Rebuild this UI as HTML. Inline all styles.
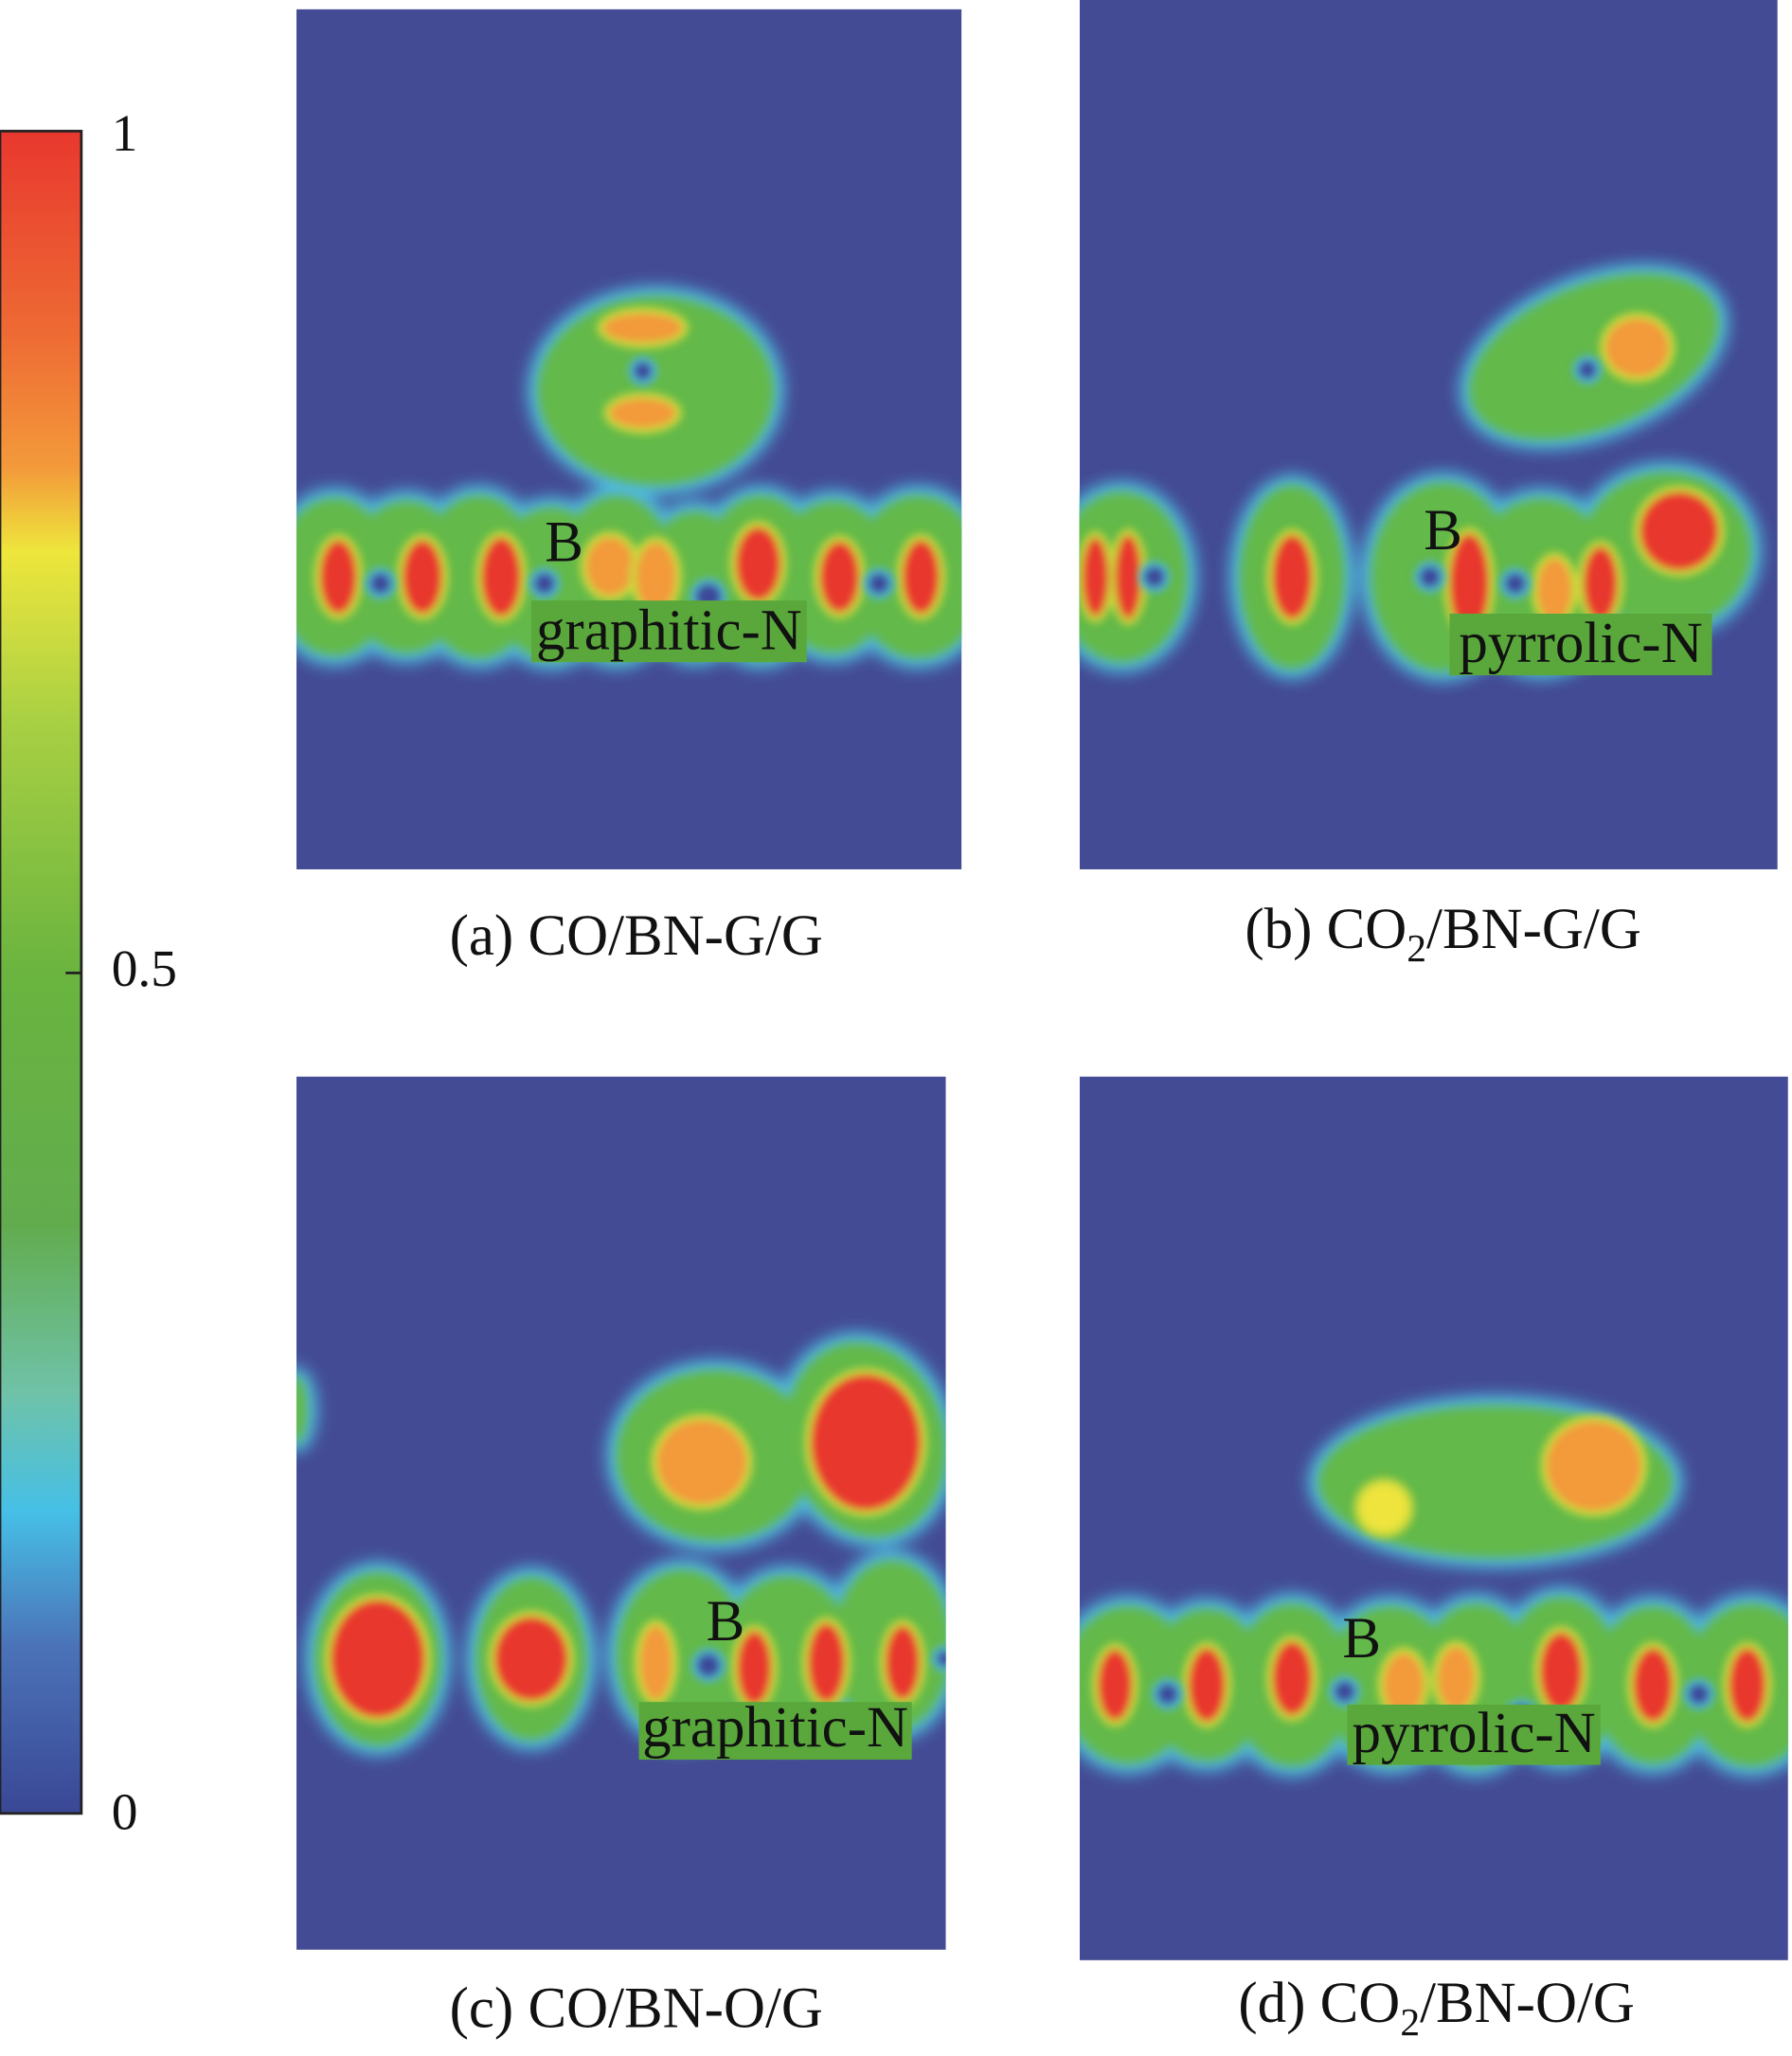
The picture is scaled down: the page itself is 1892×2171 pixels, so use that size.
<!DOCTYPE html>
<html><head><meta charset="utf-8"><style>
html,body{margin:0;padding:0;background:#fff;}
svg{display:block;}
text{font-family:"Liberation Serif",serif;fill:#111;}
</style></head><body>
<svg id="chart" width="1892" height="2171" viewBox="0 0 1366 1568" preserveAspectRatio="none">
<defs>
<linearGradient id="cbar" x1="0" y1="0" x2="0" y2="1">
<stop offset="0" stop-color="#e8382e"/>
<stop offset="0.12" stop-color="#ee6a34"/>
<stop offset="0.2" stop-color="#f39a3a"/>
<stop offset="0.25" stop-color="#eee63c"/>
<stop offset="0.35" stop-color="#a9d043"/>
<stop offset="0.5" stop-color="#6ab43f"/>
<stop offset="0.65" stop-color="#62ac4e"/>
<stop offset="0.75" stop-color="#6fc2a8"/>
<stop offset="0.82" stop-color="#46c0e6"/>
<stop offset="0.9" stop-color="#4b73b8"/>
<stop offset="1" stop-color="#3a4795"/>
</linearGradient>
<filter id="b1" x="-50%" y="-50%" width="200%" height="200%"><feGaussianBlur stdDeviation="4"/></filter>
<filter id="b2" x="-50%" y="-50%" width="200%" height="200%"><feGaussianBlur stdDeviation="6"/></filter>
<filter id="b3" x="-50%" y="-50%" width="200%" height="200%"><feGaussianBlur stdDeviation="3"/></filter>
<clipPath id="ca"><rect x="226" y="7" width="507" height="656"/></clipPath>
<clipPath id="cb"><rect x="823" y="0" width="532" height="663"/></clipPath>
<clipPath id="cc"><rect x="226" y="821" width="495" height="666"/></clipPath>
<clipPath id="cd"><rect x="823" y="821" width="540" height="674"/></clipPath>
</defs>
<g>
<rect x="0" y="100" width="62" height="1283" fill="url(#cbar)" stroke="#222" stroke-width="2"/>
<line x1="50" y1="742" x2="62" y2="742" stroke="#222" stroke-width="2"/>
<text x="85" y="115" font-size="40">1</text>
<text x="85" y="752" font-size="40">0.5</text>
<text x="85" y="1395" font-size="40">0</text>
</g>
<g id="panels"></g>
<text x="485" y="728" font-size="44" text-anchor="middle">(a) CO/BN-G/G</text>
<text x="1100" y="723" font-size="44" text-anchor="middle">(b) CO<tspan font-size="30" dy="10">2</tspan><tspan dy="-10">/BN-G/G</tspan></text>
<text x="485" y="1546" font-size="44" text-anchor="middle">(c) CO/BN-O/G</text>
<text x="1095" y="1542" font-size="44" text-anchor="middle">(d) CO<tspan font-size="30" dy="10">2</tspan><tspan dy="-10">/BN-O/G</tspan></text>
</svg>
<script>
const NS="http://www.w3.org/2000/svg";
const panelNames=["panel-a","panel-b","panel-c","panel-d"];
const panelRects=[[226,7,507,656],[823,0,532,663],[226,821,495,666],[823,821,540,674]];
const panelClips=["ca","cb","cc","cd"];
// blobs (envelope): [cx, cy, rx, ry, rotation]
const envA=[[500,298,90,72,0],[255,440,45,60,0],[310,440,45,58,0],[365,440,45,62,0],[420,445,45,58,0],[470,440,45,62,0],[530,445,40,55,0],[580,440,45,62,0],[635,440,45,58,0],[700,440,50,62,0]];
const envB=[[855,440,50,65,0],[985,440,40,70,0],[1100,440,55,72,0],[1175,445,55,65,0],[1270,420,65,60,0],[1215,272,100,55,-22]];
const envC=[[288,1265,48,66,0],[405,1265,42,62,0],[520,1262,50,65,0],[600,1262,50,60,0],[680,1255,45,65,0],[545,1110,75,65,0],[660,1098,60,75,-15],[226,1075,8,25,0]];
const envD=[[1140,1130,135,58,0],[860,1285,50,60,0],[920,1285,45,58,0],[985,1285,45,62,0],[1060,1285,50,60,0],[1125,1285,45,62,0],[1190,1280,45,62,0],[1260,1285,45,60,0],[1335,1285,50,62,0]];
// cores: [cx, cy, rx, ry, level(0 yellow,1 orange,2 red)]
const coreA=[[490,250,30,11,1],[490,315,25,11,1],[258,440,14,28,2],[322,440,15,28,2],[382,440,15,30,2],[465,432,18,22,1],[500,440,15,26,1],[578,430,17,28,2],[640,440,15,27,2],[702,440,14,28,2]];
const coreB=[[835,440,10,30,2],[860,440,10,32,2],[985,440,15,32,2],[1120,445,15,38,2],[1185,450,13,24,1],[1220,445,13,28,2],[1280,405,30,30,2],[1248,265,24,22,1]];
const coreC=[[288,1265,36,45,2],[405,1265,28,32,2],[500,1268,12,28,1],[575,1272,13,28,2],[630,1268,14,30,2],[688,1268,13,28,2],[535,1115,34,32,1],[660,1100,42,52,2]];
const coreD=[[1055,1150,18,18,0],[1215,1118,36,34,1],[850,1285,13,27,2],[920,1285,14,28,2],[985,1280,15,28,2],[1070,1285,15,24,1],[1110,1280,14,24,1],[1190,1275,16,30,2],[1260,1285,15,28,2],[1332,1285,14,28,2]];
// holes: [cx, cy, r]
const holeA=[[290,445,8],[415,445,8],[540,455,10],[670,445,8],[490,283,7]];
const holeB=[[880,440,8],[1090,440,8],[1155,445,8],[1210,282,7]];
const holeC=[[540,1270,9],[720,1265,6]];
const holeD=[[890,1292,8],[1025,1290,8],[1160,1310,10],[1295,1292,8]];
const envs=[envA,envB,envC,envD], cores=[coreA,coreB,coreC,coreD], holes=[holeA,holeB,holeC,holeD];
const coreColors=["#eee43c","#f39a3a","#e8382e"];
const panelsG=document.getElementById('panels');
function el(tag,attrs,parent){const e=document.createElementNS(NS,tag);for(const k in attrs)e.setAttribute(k,attrs[k]);parent.appendChild(e);return e;}
for(let p=0;p<4;p++){
  const [x,y,w,h]=panelRects[p];
  const g=el('g',{'clip-path':'url(#'+panelClips[p]+')'},panelsG);
  
  
  el('rect',{x:x,y:y,width:w,height:h,fill:'#434b94'},g);
  const layers=[[8,'#4fb8dc','b2'],[0,'#63b94a','b1']];
  for(const [grow,col,f] of layers){
    const lg=el('g',{filter:'url(#'+f+')'},g);
    for(const e of envs[p]){
      const s=el('ellipse',{cx:e[0],cy:e[1],rx:e[2]+grow,ry:e[3]+grow,fill:col,transform:'rotate('+e[4]+' '+e[0]+' '+e[1]+')'},lg);
      
      
    }
  }
  const cg=el('g',{filter:'url(#b3)'},g);
  for(const c of cores[p]){
    const a=el('ellipse',{cx:c[0],cy:c[1],rx:c[2]+5,ry:c[3]+5,fill:'#c8d83e'},cg);
    
    
    const b=el('ellipse',{cx:c[0],cy:c[1],rx:c[2],ry:c[3],fill:coreColors[c[4]]},cg);
    
    
  }
  const hg=el('g',{filter:'url(#b3)'},g);
  for(const hh of holes[p]){
    el('circle',{cx:hh[0],cy:hh[1],r:hh[2]+4,fill:'#4fb8dc'},hg);
    const c=el('circle',{cx:hh[0],cy:hh[1],r:hh[2],fill:'#3e4a9a'},hg);
    
    
  }
}
const labelTexts=["graphitic-N","pyrrolic-N","graphitic-N","pyrrolic-N"];
const labelBoxes=[[405,458,210,47],[1105,468,200,47],[487,1298,208,44],[1027,1300,193,46]];
const bLabels=[[430,428],[1100,419],[553,1251],[1038,1264]];
for(let p=0;p<4;p++){
  const [bx,by,bw,bh]=labelBoxes[p];
  const r=el('rect',{x:bx,y:by,width:bw,height:bh,fill:'#5aa83c'},panelsG);
  
  
  const t=el('text',{x:bx+bw/2,y:by+bh-10,'font-size':44,'text-anchor':'middle'},panelsG);
  t.textContent=labelTexts[p];
  
  
  const b=el('text',{x:bLabels[p][0],y:bLabels[p][1],'font-size':44,'text-anchor':'middle'},panelsG);
  b.textContent="B";
  
  
}
</script>
</body></html>
